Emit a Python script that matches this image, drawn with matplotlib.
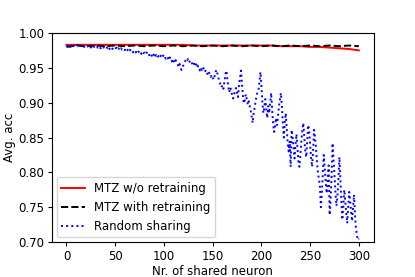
import numpy as np
import matplotlib
matplotlib.use("Agg")
import matplotlib.pyplot as plt

# Red: MTZ w/o retraining (every 10 neurons)
x_coarse = list(range(0, 301, 10))
mtz_wo = [0.983, 0.983, 0.983, 0.983, 0.983, 0.983, 0.983, 0.983, 0.983, 0.983,
          0.983, 0.983, 0.983, 0.982, 0.982, 0.982, 0.982, 0.982, 0.982, 0.982,
          0.982, 0.982, 0.981, 0.981, 0.981, 0.980, 0.980, 0.979, 0.978, 0.977,
          0.975]
# Black: MTZ with retraining
mtz_with = [0.980, 0.982, 0.981, 0.982, 0.981, 0.982, 0.981, 0.982, 0.981, 0.982,
            0.981, 0.982, 0.981, 0.982, 0.981, 0.982, 0.981, 0.982, 0.981, 0.982,
            0.981, 0.982, 0.981, 0.982, 0.981, 0.982, 0.981, 0.982, 0.981, 0.982,
            0.981]

# Blue: Random sharing (every neuron 0..300)
random_sharing = [
    0.982, 0.981, 0.983, 0.982, 0.980, 0.982, 0.983, 0.981, 0.982, 0.980,
    0.982, 0.983, 0.981, 0.980, 0.982, 0.981, 0.983, 0.982, 0.980, 0.981,
    0.982, 0.980, 0.981, 0.983, 0.981, 0.979, 0.981, 0.982, 0.980, 0.981,
    0.980, 0.982, 0.979, 0.981, 0.980, 0.978, 0.980, 0.981, 0.979, 0.980,
    0.979, 0.981, 0.978, 0.980, 0.977, 0.979, 0.980, 0.977, 0.979, 0.978,
    0.977, 0.979, 0.976, 0.978, 0.977, 0.975, 0.978, 0.976, 0.977, 0.975,
    0.976, 0.974, 0.977, 0.975, 0.973, 0.976, 0.974, 0.975, 0.972, 0.974,
    0.975, 0.972, 0.974, 0.971, 0.973, 0.975, 0.972, 0.970, 0.973, 0.971,
    0.972, 0.969, 0.971, 0.973, 0.970, 0.968, 0.971, 0.969, 0.966, 0.970,
    0.968, 0.971, 0.967, 0.969, 0.966, 0.968, 0.970, 0.966, 0.964, 0.967,
    0.969, 0.965, 0.963, 0.966, 0.964, 0.961, 0.965, 0.962, 0.959, 0.963,
    0.960, 0.957, 0.961, 0.958, 0.955, 0.952, 0.956, 0.950, 0.947, 0.951,
    0.954, 0.958, 0.960, 0.963, 0.961, 0.964, 0.960, 0.957, 0.959, 0.956,
    0.953, 0.956, 0.952, 0.955, 0.950, 0.953, 0.949, 0.946, 0.950, 0.947,
    0.951, 0.948, 0.944, 0.947, 0.943, 0.940, 0.944, 0.941, 0.937, 0.940,
    0.936, 0.933, 0.938, 0.944, 0.947, 0.941, 0.935, 0.930, 0.926, 0.922,
    0.925, 0.920, 0.930, 0.940, 0.946, 0.935, 0.923, 0.915, 0.922, 0.918,
    0.910, 0.906, 0.912, 0.917, 0.921, 0.914, 0.908, 0.925, 0.935, 0.946,
    0.928, 0.910, 0.899, 0.904, 0.912, 0.905, 0.897, 0.902, 0.895, 0.889,
    0.880, 0.871, 0.884, 0.893, 0.903, 0.910, 0.915, 0.918, 0.930, 0.944,
    0.925, 0.900, 0.885, 0.893, 0.905, 0.890, 0.878, 0.895, 0.885, 0.900,
    0.914, 0.890, 0.870, 0.858, 0.866, 0.878, 0.868, 0.880, 0.895, 0.905,
    0.914, 0.895, 0.870, 0.850, 0.872, 0.885, 0.862, 0.840, 0.830, 0.845,
    0.808, 0.861, 0.850, 0.835, 0.820, 0.840, 0.855, 0.835, 0.815, 0.808,
    0.825, 0.845, 0.861, 0.871, 0.850, 0.830, 0.822, 0.845, 0.868, 0.860,
    0.840, 0.820, 0.808, 0.830, 0.861, 0.850, 0.835, 0.815, 0.800, 0.790,
    0.780, 0.750, 0.770, 0.800, 0.825, 0.805, 0.785, 0.770, 0.790, 0.810,
    0.739, 0.760, 0.795, 0.842, 0.820, 0.795, 0.770, 0.752, 0.765, 0.790,
    0.822, 0.790, 0.760, 0.732, 0.750, 0.775, 0.760, 0.742, 0.727, 0.750,
    0.772, 0.760, 0.745, 0.730, 0.748, 0.768, 0.740, 0.720, 0.710, 0.703,
    0.705,
]
x_fine = list(range(len(random_sharing)))

plt.rcParams['font.family'] = ['DejaVu Sans']
plt.rcParams['font.size'] = 8.5

fig, ax = plt.subplots(figsize=(4.15, 2.77), dpi=100)
fig.subplots_adjust(left=0.125, right=0.9, top=0.881, bottom=0.126)

ax.plot(x_coarse, mtz_wo, color='red', linestyle='-', linewidth=1.4, label='MTZ w/o retraining')
ax.plot(x_coarse, mtz_with, color='black', linestyle='--', linewidth=1.4, label='MTZ with retraining')
ax.plot(x_fine, random_sharing, color='blue', linestyle=':', linewidth=1.4, label='Random sharing')

ax.set_ylim(0.70, 1.00)
ax.set_xticks([0, 50, 100, 150, 200, 250, 300])
ax.set_yticks([0.70, 0.75, 0.80, 0.85, 0.90, 0.95, 1.00])
ax.tick_params(length=3, pad=2.5)
ax.set_xlabel('Nr. of shared neuron', labelpad=1.5)
ax.set_ylabel('Avg. acc', labelpad=1.5)
ax.legend(loc='lower left', borderaxespad=0.4)

fig.savefig('out.png', dpi=100)
